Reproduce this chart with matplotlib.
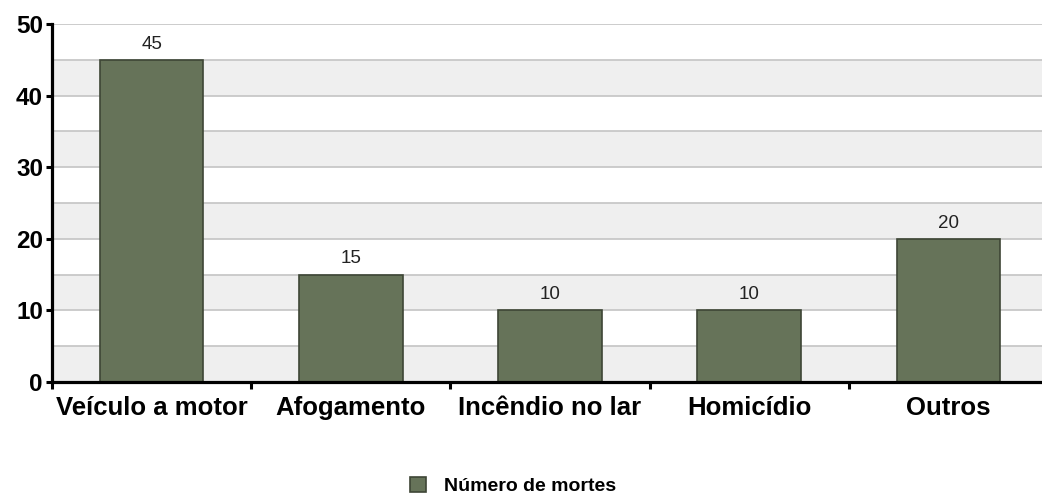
import matplotlib
matplotlib.use('Agg')
import matplotlib.pyplot as plt
from matplotlib.patches import Patch

# dados do grafico
categorias = ['Veículo a motor', 'Afogamento', 'Incêndio no lar', 'Homicídio', 'Outros']
mortes = [45, 15, 10, 10, 20]
serie_nome = 'Número de mortes'

BAR_COLOR = '#667359'
EDGE_COLOR = '#3e4636'
BAND_COLOR = '#efefef'
GRID_COLOR = '#c8c8c8'

plt.rcParams['font.family'] = ['Liberation Sans', 'DejaVu Sans']

fig = plt.figure(figsize=(10.42, 4.98), dpi=100)
fig.set_facecolor('white')
ax = fig.add_axes([52 / 1042, 1 - 382 / 498, 996 / 1042, 358 / 498])

# faixas alternadas e linhas de grade
for y0 in range(0, 50, 10):
    ax.axhspan(y0, y0 + 5, color=BAND_COLOR, zorder=0, lw=0)
for y in range(5, 55, 5):
    ax.axhline(y, color=GRID_COLOR, lw=1.3, zorder=1)

x = list(range(len(categorias)))
bars = ax.bar(x, mortes, width=0.52, color=BAR_COLOR, edgecolor=EDGE_COLOR,
              linewidth=1.2, zorder=2)
for b, v in zip(bars, mortes):
    ax.text(b.get_x() + b.get_width() / 2, v + 1.0, str(v), ha='center', va='bottom',
            fontsize=13.5, color='#222222', zorder=3)

ax.set_xlim(-0.5, len(categorias) - 0.5)
ax.set_ylim(0, 50)
ax.set_yticks(range(0, 60, 10))
ax.set_yticklabels([str(t) for t in range(0, 60, 10)], fontsize=17.5, fontweight='bold')
ax.set_xticks([i + 0.5 for i in range(-1, len(categorias) - 1)])
ax.set_xticklabels([])
ax.set_xticks(x, minor=True)
ax.set_xticklabels(categorias, minor=True, fontsize=18.5, fontweight='bold')
ax.tick_params(axis='x', which='minor', length=0, pad=10)
ax.tick_params(axis='x', which='major', length=5, width=2.2, direction='out')
ax.tick_params(axis='y', length=4.5, width=2.2, direction='out', pad=2)

for s in ['top', 'right']:
    ax.spines[s].set_visible(False)
ax.spines['left'].set_linewidth(2.3)
ax.spines['bottom'].set_linewidth(2.3)

handle = Patch(facecolor=BAR_COLOR, edgecolor=EDGE_COLOR, linewidth=1.2)
fig.legend([handle], [serie_nome], loc='center', bbox_to_anchor=(513 / 1042, 1 - 486 / 498),
           frameon=False, prop={'weight': 'bold', 'size': 14},
           handlelength=0.85, handleheight=0.85, handletextpad=0.9)

fig.savefig('out.png', dpi=100, facecolor='white')
